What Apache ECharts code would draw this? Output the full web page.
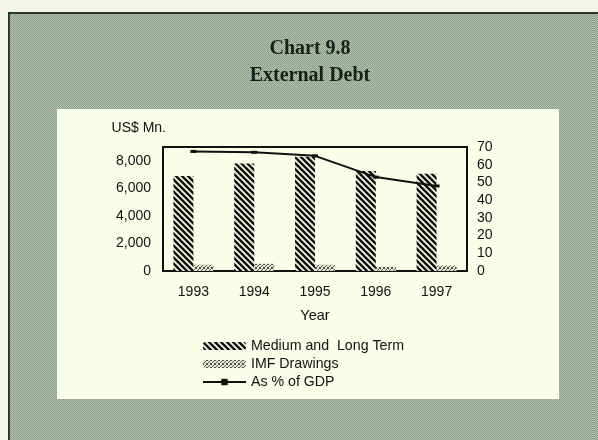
<!DOCTYPE html>
<html>
<head>
<meta charset="utf-8">
<script src="https://cdn.jsdelivr.net/npm/echarts@6/dist/echarts.min.js"></script>
<style>
html,body{margin:0;padding:0;background:#f3f5ea;}
#chart{width:598px;height:440px;}
</style>
</head>
<body>
<div id="chart"></div>
<script>
// ---- data ----
const years = ['1993', '1994', '1995', '1996', '1997'];
const mediumLongTerm = [6900, 7800, 8300, 7250, 7050];
const imfDrawings = [450, 520, 450, 300, 400];
const pctOfGDP = [67.5, 67, 65, 53, 48];
const leftTicks = [0, 2000, 4000, 6000, 8000];
const rightTicks = [0, 10, 20, 30, 40, 50, 60, 70];

// ---- patterns ----
function makeCanvas(w, h) {
  const c = document.createElement('canvas');
  c.width = w; c.height = h;
  return c;
}
function hatchPattern() {
  const s = 6;
  const c = makeCanvas(s, s);
  const g = c.getContext('2d');
  g.fillStyle = '#fbfde9';
  g.fillRect(0, 0, s, s);
  g.strokeStyle = '#111111';
  g.lineWidth = 2.5;
  for (const off of [-s, 0, s]) {
    g.beginPath();
    g.moveTo(off - 1, -1);
    g.lineTo(off + s + 1, s + 1);
    g.stroke();
  }
  return c;
}
function imfPattern() {
  const c = makeCanvas(4, 4);
  const g = c.getContext('2d');
  g.fillStyle = '#e4e6d2';
  g.fillRect(0, 0, 4, 4);
  g.fillStyle = '#4f544b';
  [[0,0],[2,1],[1,2],[3,3],[3,0],[0,3]].forEach(p => g.fillRect(p[0], p[1], 1, 1));
  return c;
}
function halftone() {
  const c = makeCanvas(2, 2);
  const g = c.getContext('2d');
  g.fillStyle = '#b7c6b2';
  g.fillRect(0, 0, 2, 2);
  g.fillStyle = '#889b85';
  g.fillRect(0, 0, 1, 1);
  g.fillRect(1, 1, 1, 1);
  return c;
}

const chart = echarts.init(document.getElementById('chart'), null, {renderer: 'canvas'});
const font = 'Liberation Sans, Arial, sans-serif';
const ink = '#111111';

chart.setOption({
  backgroundColor: '#f3f5ea',
  animation: false,
  graphic: [
    {type: 'rect', z: -10, shape: {x: 9, y: 13, width: 600, height: 440},
     style: {fill: {image: halftone(), repeat: 'repeat'}, stroke: '#2b382b', lineWidth: 2}},
    {type: 'rect', z: -9, shape: {x: 57, y: 109, width: 502, height: 290},
     style: {fill: '#fbfde9'}}
  ],
  title: {
    text: 'Chart 9.8\nExternal Debt',
    left: 305,
    top: 30,
    textAlign: 'center',
    textStyle: {fontFamily: 'Liberation Serif, Times New Roman, serif', fontWeight: 'bold',
      fontSize: 20, lineHeight: 27, color: '#18201a'}
  },
  grid: {left: 163, right: 131, top: 147, bottom: 169, show: true,
    borderColor: '#111111', borderWidth: 2, backgroundColor: 'transparent'},
  legend: {
    orient: 'vertical', left: 197, top: 334, itemWidth: 43, itemHeight: 8, itemGap: 4,
    textStyle: {fontFamily: font, fontSize: 14.2, color: ink},
    data: ['Medium and  Long Term', 'IMF Drawings', 'As % of GDP']
  },
  xAxis: {
    type: 'category', data: years,
    name: 'Year', nameLocation: 'middle', nameGap: 37,
    nameTextStyle: {fontFamily: font, fontSize: 14.5, color: ink},
    axisLine: {show: true, lineStyle: {color: '#111111', width: 2}},
    axisTick: {show: false},
    axisLabel: {fontFamily: font, fontSize: 14, color: ink, margin: 14}
  },
  yAxis: [
    {
      type: 'value', min: 0, max: 9000, interval: 2000,
      name: 'US$ Mn.', nameLocation: 'end', nameGap: 12,
      nameTextStyle: {fontFamily: font, fontSize: 14, color: ink, align: 'right', padding: [0, -3, 0, 0]},
      axisLine: {show: true, lineStyle: {color: '#111111', width: 2}},
      axisTick: {show: false}, splitLine: {show: false},
      axisLabel: {fontFamily: font, fontSize: 14, color: ink, margin: 12,
        formatter: v => leftTicks.indexOf(v) >= 0 ? v.toLocaleString('en-US') : ''}
    },
    {
      type: 'value', min: 0, max: 70, interval: 10, position: 'right',
      axisLine: {show: true, lineStyle: {color: '#111111', width: 2}},
      axisTick: {show: false}, splitLine: {show: false},
      axisLabel: {fontFamily: font, fontSize: 14, color: ink, margin: 10,
        formatter: v => rightTicks.indexOf(v) >= 0 ? String(v) : ''}
    }
  ],
  series: [
    {
      name: 'Medium and  Long Term', type: 'bar', data: mediumLongTerm,
      barWidth: 20, barGap: '0%',
      itemStyle: {color: {image: hatchPattern(), repeat: 'repeat'}}
    },
    {
      name: 'IMF Drawings', type: 'bar', data: imfDrawings,
      barWidth: 20, barGap: '0%',
      itemStyle: {color: {image: imfPattern(), repeat: 'repeat'}}
    },
    {
      name: 'As % of GDP', type: 'line', yAxisIndex: 1, data: pctOfGDP,
      symbol: 'rect', symbolSize: [6, 3], showSymbol: true,
      lineStyle: {color: '#111111', width: 2},
      itemStyle: {color: '#111111'}
    }
  ]
});
</script>
</body>
</html>
